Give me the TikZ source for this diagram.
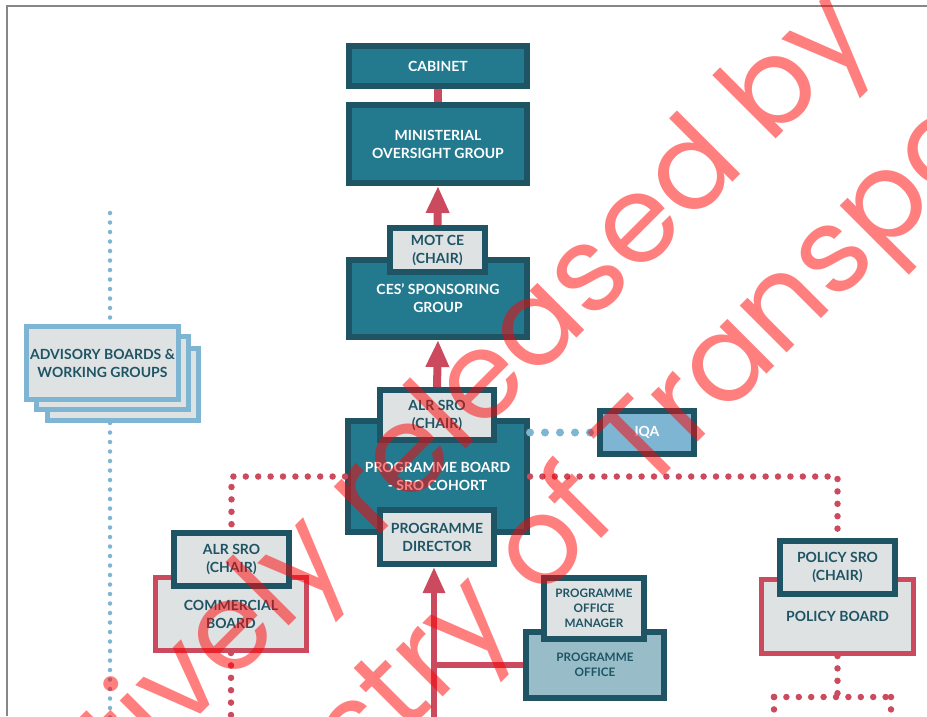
\documentclass[tikz,border=0pt]{standalone}
\usepackage{fontspec}
\setmainfont{Lato}
\newfontfamily\wmfont{Poppins}
\usepackage{xcolor}
\definecolor{motteal}{RGB}{35,122,143}
\definecolor{motdark}{RGB}{31,84,101}
\definecolor{motgrey}{RGB}{222,226,227}
\definecolor{motred}{RGB}{204,74,94}
\definecolor{motblue}{RGB}{125,181,211}
\definecolor{motoffice}{RGB}{152,189,201}
\definecolor{motframe}{RGB}{135,135,135}
\newcommand{\boxfont}{\fontsize{14}{18}\selectfont\bfseries}
\newcommand{\smallboxfont}{\fontsize{11.7}{15}\selectfont\bfseries}
\usetikzlibrary{arrows.meta, positioning}

\tikzset{
  tealbox/.style={draw=motdark, fill=motteal, line width=6pt, text=white, font=\boxfont, align=center, inner sep=0pt},
  chairbox/.style={draw=motdark, fill=motgrey, line width=6pt, text=motdark, font=\boxfont, align=center, inner sep=0pt},
  boardbox/.style={draw=motred, fill=motgrey, line width=5pt, text=motdark, font=\boxfont, align=center, inner sep=0pt},
  advbox/.style={draw=motblue, fill=motgrey, line width=5pt, text=motdark, font=\boxfont, align=center, inner sep=0pt},
  iqabox/.style={draw=motdark, fill=motblue, line width=6pt, text=white, font=\boxfont, align=center, inner sep=0pt},
  officebox/.style={draw=motdark, fill=motoffice, line width=6pt, text=motdark, font=\smallboxfont, align=center, inner sep=0pt},
  redline/.style={draw=motred, line width=8pt},
  redarrow/.style={redline, -{Triangle[length=27pt,width=22pt]}},
  reddots/.style={draw=motred, line width=6.5pt, line cap=round, dash pattern=on 0pt off 12.4pt},
  bluedots/.style={draw=motblue, line width=8pt, line cap=round, dash pattern=on 0pt off 15pt},
  smalldots/.style={draw=motblue, line width=4.5pt, line cap=round, dash pattern=on 0pt off 9.5pt},
  watermark/.style={text=red, text opacity=0.5, font=\wmfont\fontsize{121}{121}\selectfont, rotate=45, inner sep=0pt},
}

\begin{document}
\begin{tikzpicture}[x=1pt, y=-1pt]
  \useasboundingbox (0,0) rectangle (927,716);
  \fill[white] (0,0) rectangle (927,716);

  % Page frame
  \draw[motframe, line width=1.5pt] (7,716) -- (7,6) -- (927,6);

  % Top of the chain
  \node[tealbox, minimum width=178, minimum height=40] (cabinet) at (438,66) {CABINET};
  \node[tealbox, minimum width=178, minimum height=78] (mog) at (438,144) {MINISTERIAL\\OVERSIGHT GROUP};
  \node[tealbox, minimum width=178, minimum height=77] (ces) at (438,298.5) {CES' SPONSORING\\GROUP};
  \node[chairbox, minimum width=95, minimum height=44] (motce) at (437.5,250) {MOT CE\\(CHAIR)};

  % Programme board
  \node[tealbox, minimum width=179, minimum height=111] (pb) at (437.5,476.5) {PROGRAMME BOARD\\- SRO COHORT};
  \node[chairbox, minimum width=114, minimum height=50] (alrpb) at (437,415) {ALR SRO\\(CHAIR)};
  \node[chairbox, minimum width=114, minimum height=54] (director) at (437,537) {PROGRAMME\\DIRECTOR};
  \node[iqabox, minimum width=94, minimum height=43] (iqa) at (647,432.5) {IQA};

  % Advisory boards (stacked)
  \node[advbox, minimum width=151, minimum height=72] (adv3) at (123,384.5) {};
  \node[advbox, minimum width=152, minimum height=73] (adv2) at (112.5,373) {};
  \node[advbox, minimum width=152, minimum height=73] (adv1) at (102.5,363) {ADVISORY BOARDS \&\\WORKING GROUPS};

  % Commercial board
  \node[boardbox, minimum width=151, minimum height=73] (combrd) at (231,614) {COMMERCIAL\\BOARD};
  \node[chairbox, minimum width=115, minimum height=53] (alrcom) at (231.5,559.5) {ALR SRO\\(CHAIR)};

  % Policy board
  \node[boardbox, minimum width=152, minimum height=74] (polbrd) at (837.5,616.5) {POLICY BOARD};
  \node[chairbox, minimum width=115, minimum height=53] (polsro) at (837.5,567.5) {POLICY SRO\\(CHAIR)};

  % Programme office
  \node[officebox, minimum width=138, minimum height=66] (office) at (595,665) {PROGRAMME\\OFFICE};
  \node[chairbox, font=\smallboxfont, minimum width=100, minimum height=61] (officemgr) at (594,608.5) {PROGRAMME\\OFFICE\\MANAGER};

  % Reporting lines
  \draw[redline] (cabinet) -- (mog);
  \draw[redarrow] (motce.north) -- (mog.south);
  \draw[redarrow] (alrpb.north) -- (ces.south);
  \coordinate (arrowfoot) at (434,722);
  \draw[redline, line width=6pt, -{Triangle[length=26pt,width=21pt]}] (arrowfoot) -- (arrowfoot |- director.south);
  \draw[redline, line width=6pt] (office.west) -- (office.west -| arrowfoot);

  % Dotted links
  \draw[reddots] (pb.west) -| (alrcom.north);
  \draw[reddots] (pb.east) -| (polsro.north);
  \coordinate (combase) at (231,722);
  \draw[reddots] (combrd.south) -- (combrd.south |- combase);
  \coordinate (polsplit) at (837.5,697);
  \coordinate (polleft) at (774,697);
  \coordinate (polright) at (891,697);
  \draw[reddots] (polbrd.south) -- (polsplit);
  \draw[reddots] (polleft) -- (polright);
  \draw[reddots] (polleft) -- (polleft |- combase);
  \draw[reddots] (polright) -- (polright |- combase);
  \draw[bluedots] (pb.east |- iqa.west) -- (iqa.west);
  \coordinate (advtop) at (110,213);
  \draw[smalldots] (advtop) -- (advtop |- adv1.north);
  \draw[smalldots] (advtop |- adv3.south) -- (advtop |- combase);

  % Watermark
  \begin{scope}
    \clip (0,0) rectangle (927,716);
    \node[watermark, anchor=base east] (wmtop) at (876,39) {tively released by};
    \node[watermark, anchor=base east] (wmbottom) at (993,147) {stry of Transpo};
  \end{scope}
\end{tikzpicture}
\end{document}
